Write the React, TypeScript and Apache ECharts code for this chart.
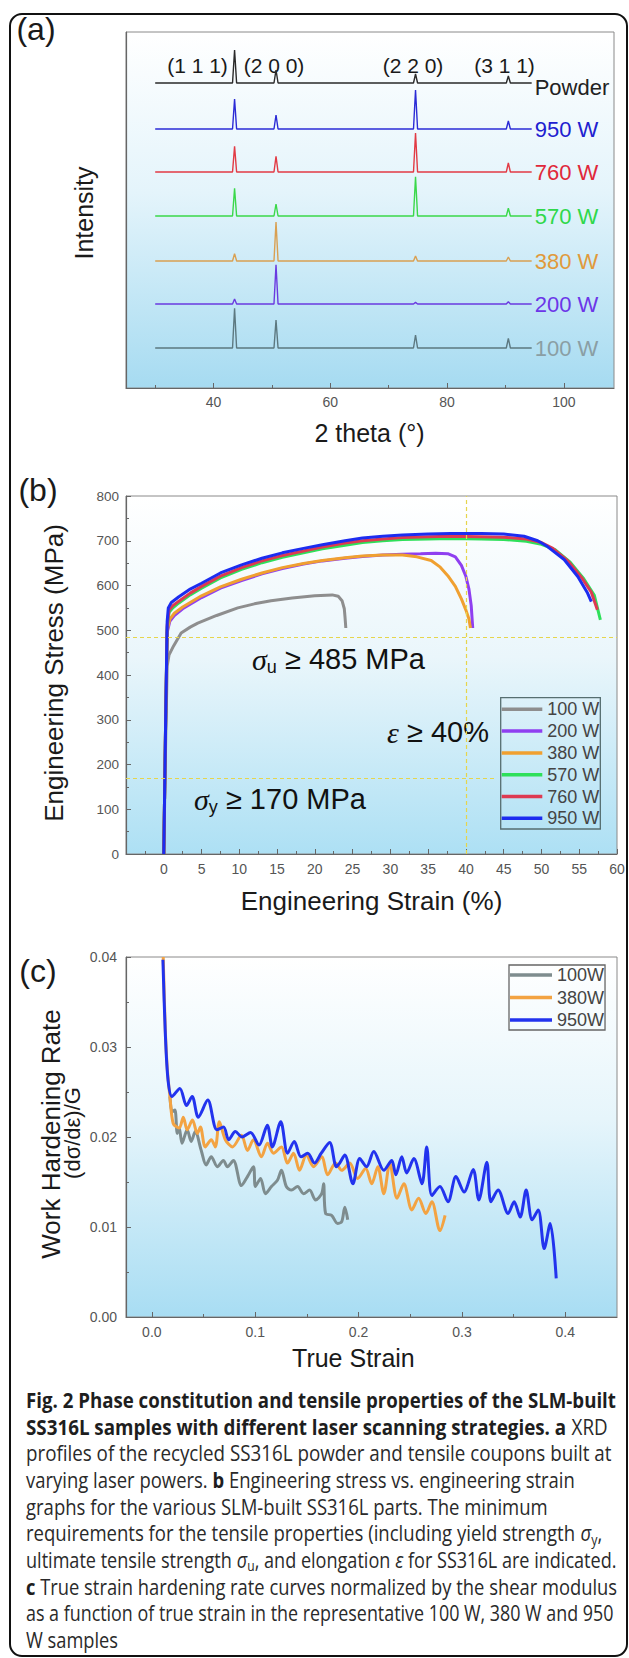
import React, { useEffect, useRef } from 'react';
import * as echarts from 'echarts';

// ---------- Panel (a): XRD ----------
const xrdNames = ['100 W', '200 W', '380 W', '570 W', '760 W', '950 W', 'Powder'];
const xrdOffsets = [40, 84, 127, 172, 216, 259, 305];
const peakPositions = [43.6, 50.7, 74.6, 90.5];
const peakLabels = ['(1 1 1)', '(2 0 0)', '(2 2 0)', '(3 1 1)'];
const xrd100 = [39.7, 28, 13, 9.7];
const xrd200 = [5, 39.3, 1.6, 2.3];
const xrd380 = [7.4, 39, 5, 4];
const xrd570 = [27.7, 12, 39.3, 7.7];
const xrd760 = [25.6, 15.6, 39, 9];
const xrd950 = [30, 14, 39, 8];
const xrdPowder = [33, 13, 9, 7];
const xrdHeights = [xrd100, xrd200, xrd380, xrd570, xrd760, xrd950, xrdPowder];
const scanStart = 30;
const scanEnd = 94.5;
const xrdTickMajor = [40, 60, 80, 100];
const xrdTickMinor = [30, 50, 70, 90];

// ---------- Panel (b): engineering stress-strain ----------
const ssNames = ['100 W', '200 W', '380 W', '570 W', '760 W', '950 W'];
const ss100 = [[0, 0], [0.25, 250], [0.45, 420], [0.7, 445], [1.3, 465], [2.3, 494], [3.5, 507], [4.5, 516], [7, 533], [9.8, 550], [12, 559], [14.2, 566], [17, 572], [20, 577], [22.3, 579], [23.1, 576], [23.6, 566], [23.9, 548], [24.0, 528], [24.1, 505]];
const ss200 = [[0, 0], [0.25, 300], [0.45, 495], [0.8, 520], [1.4, 533], [2.5, 548], [5, 573], [7.5, 594], [10.3, 611], [13, 626], [15.7, 638], [18.5, 648], [21, 655], [24, 661], [26.3, 665], [29, 668], [31.6, 670], [34, 671], [36, 672], [37.6, 671], [38.6, 664], [39.4, 645], [40.0, 620], [40.4, 592], [40.7, 555], [40.9, 505]];
const ss380 = [[0, 0], [0.25, 300], [0.45, 500], [0.8, 525], [1.4, 538], [2.5, 552], [5, 577], [7.5, 597], [10.3, 614], [13, 628], [15.7, 640], [18.5, 649], [21, 656], [24, 662], [26.3, 666], [29, 668], [31.6, 668], [33.5, 664], [35.4, 656], [36.6, 641], [37.6, 622], [38.6, 598], [39.4, 570], [40.0, 545], [40.4, 525], [40.6, 505]];
const ss570 = [[0, 0], [0.25, 300], [0.45, 505], [0.7, 540], [1.2, 550], [2, 561], [3.5, 579], [5, 594], [7.5, 617], [10.3, 636], [13, 651], [15.7, 663], [18.5, 673], [21, 682], [24, 690], [26.3, 696], [29, 700], [31.6, 703], [35, 704], [38, 705], [42, 704], [45, 703], [48, 699], [50, 692], [51.8, 680], [53.8, 652], [55.6, 615], [57, 578], [57.8, 523]];
const ss760 = [[0, 0], [0.25, 300], [0.45, 510], [0.7, 545], [1.2, 555], [2, 565], [3.5, 583], [5, 598], [7.5, 621], [10.3, 640], [13, 655], [15.7, 667], [18.5, 677], [21, 686], [24, 695], [26.3, 700], [29, 704], [31.6, 707], [35, 709], [38, 710], [42, 709], [45, 708], [48, 704], [50, 696], [51.5, 683], [53.5, 655], [55.3, 618], [56.6, 585], [57.4, 546]];
const ss950 = [[0, 0], [0.25, 300], [0.45, 520], [0.6, 550], [1.0, 562], [2, 575], [3.5, 592], [5, 605], [7.5, 628], [10.3, 646], [13, 661], [15.7, 673], [18.5, 683], [21, 691], [24, 700], [26.3, 706], [29, 710], [31.6, 713], [35, 715], [38, 716], [42, 716], [45, 715], [47.7, 710], [49.5, 700], [50.8, 687], [53, 658], [54.8, 620], [56.1, 583], [56.6, 564]];
const ssData = [ss100, ss200, ss380, ss570, ss760, ss950];
const minUltimate = 485;
const minYield = 170;
const minElong = 40;
const yieldLineEnd = 43.9;

// ---------- Panel (c): work hardening ----------
const whNames = ['100W', '380W', '950W'];
const wh100 = [[0.0175, 0.0245], [0.0195, 0.0228], [0.0223, 0.023], [0.0246, 0.0204], [0.0265, 0.021], [0.0292, 0.0193], [0.0342, 0.0208], [0.0381, 0.0195], [0.042, 0.0206], [0.0478, 0.0185], [0.0525, 0.0169], [0.0575, 0.0178], [0.0634, 0.0167], [0.0692, 0.0174], [0.0731, 0.0167], [0.0789, 0.0174], [0.0867, 0.0146], [0.0925, 0.0156], [0.0983, 0.0167], [0.1002, 0.0145], [0.1052, 0.0154], [0.1099, 0.0137], [0.1157, 0.0145], [0.1215, 0.0152], [0.1254, 0.0163], [0.1301, 0.0145], [0.1351, 0.0141], [0.141, 0.0145], [0.1468, 0.0137], [0.1526, 0.0141], [0.1584, 0.013], [0.1643, 0.0137], [0.1662, 0.0148], [0.1681, 0.0115], [0.1739, 0.0113], [0.1797, 0.0104], [0.1837, 0.0106], [0.1867, 0.0122], [0.1895, 0.0108]];
const wh380 = [[0.011, 0.04], [0.013, 0.032], [0.015, 0.0275], [0.0175, 0.0245], [0.0207, 0.0215], [0.0265, 0.021], [0.0304, 0.0222], [0.0342, 0.0208], [0.0393, 0.0219], [0.044, 0.0204], [0.047, 0.0211], [0.0517, 0.0189], [0.0575, 0.0197], [0.0614, 0.0189], [0.0653, 0.0217], [0.0711, 0.0197], [0.0781, 0.0189], [0.0867, 0.0202], [0.0925, 0.0185], [0.0983, 0.0197], [0.106, 0.0178], [0.1119, 0.0193], [0.1177, 0.0182], [0.1254, 0.0189], [0.1312, 0.0171], [0.1371, 0.0182], [0.1429, 0.0163], [0.1495, 0.018], [0.1565, 0.0167], [0.1643, 0.0178], [0.1701, 0.0158], [0.1778, 0.0171], [0.1837, 0.0163], [0.1914, 0.0171], [0.1991, 0.0154], [0.2069, 0.0165], [0.2127, 0.0148], [0.2186, 0.0167], [0.2244, 0.0137], [0.2302, 0.0171], [0.2372, 0.0132], [0.2438, 0.0148], [0.2515, 0.0119], [0.2581, 0.0132], [0.2651, 0.0115], [0.2709, 0.0128], [0.2787, 0.0096], [0.2837, 0.0113]];
const wh950 = [[0.0107, 0.0397], [0.013, 0.0316], [0.0157, 0.0263], [0.0195, 0.0245], [0.0271, 0.0254], [0.0335, 0.0235], [0.039, 0.0245], [0.0449, 0.0222], [0.0541, 0.0241], [0.0629, 0.0208], [0.0694, 0.0211], [0.0743, 0.0197], [0.0808, 0.0206], [0.0873, 0.02], [0.0955, 0.0205], [0.1036, 0.0191], [0.1117, 0.0213], [0.1166, 0.0189], [0.1247, 0.0217], [0.1313, 0.0182], [0.1378, 0.0195], [0.1443, 0.0178], [0.1508, 0.0182], [0.1574, 0.0171], [0.1639, 0.0182], [0.172, 0.0194], [0.1785, 0.0167], [0.1817, 0.0171], [0.1867, 0.018], [0.1945, 0.0148], [0.2011, 0.0176], [0.2077, 0.0167], [0.2147, 0.0184], [0.2244, 0.0163], [0.2321, 0.0174], [0.236, 0.0158], [0.2418, 0.0178], [0.2465, 0.016], [0.2535, 0.0176], [0.2613, 0.0148], [0.2659, 0.0189], [0.2709, 0.0135], [0.2787, 0.0145], [0.2865, 0.0128], [0.2942, 0.0156], [0.302, 0.0139], [0.3109, 0.0164], [0.3163, 0.013], [0.3241, 0.0172], [0.328, 0.0128], [0.335, 0.0141], [0.3447, 0.0115], [0.3505, 0.0128], [0.3563, 0.0111], [0.3621, 0.0141], [0.3679, 0.0108], [0.3738, 0.0119], [0.3796, 0.0076], [0.3854, 0.0104], [0.3912, 0.0043]];
const whData = [wh100, wh380, wh950];
const whTickMajor = [0, 0.1, 0.2, 0.3, 0.4];
const whTickMinor = [0.05, 0.15, 0.25, 0.35];

// ---------- caption ----------
const captionLines = [
  [['b', 'Fig. 2 Phase constitution and tensile properties of the SLM-built']],
  [['b', 'SS316L samples with different laser scanning strategies. a'], ['r', ' XRD']],
  [['r', 'profiles of the recycled SS316L powder and tensile coupons built at']],
  [['r', 'varying laser powers. '], ['b', 'b'], ['r', ' Engineering stress vs. engineering strain']],
  [['r', 'graphs for the various SLM-built SS316L parts. The minimum']],
  [['r', 'requirements for the tensile properties (including yield strength '], ['i', 'σ'], ['s', 'y'], ['r', ',']],
  [['r', 'ultimate tensile strength '], ['i', 'σ'], ['s', 'u'], ['r', ', and elongation '], ['i', 'ε'], ['r', ' for SS316L are indicated.']],
  [['b', 'c'], ['r', ' True strain hardening rate curves normalized by the shear modulus']],
  [['r', 'as a function of true strain in the representative 100 W, 380 W and 950']],
  [['r', 'W samples']],
];
const captionLineEnds = [616.5, 608, 612, 575, 548, 602, 617, 617, 614, 118];

const FONT = '"Liberation Sans", Arial, Helvetica, sans-serif';
const SERIF = '"Liberation Serif", "Times New Roman", serif';
const CAP_FONT = '"Open Sans", "Noto Sans", sans-serif';

const xrdColors = ['#5c7880', '#6a3ae0', '#d9a052', '#3ad84a', '#e23a44', '#2b2bd6', '#2a2a2a'];
const xrdLabelColors = ['#8a9ea4', '#6c36e8', '#e09a3c', '#2fd84a', '#e0283a', '#2020d0', '#222222'];
const ssColors = ['#8e8e8e', '#8f3ff0', '#f0a030', '#2ee05a', '#dd3a52', '#1c2cf0'];
const whColors = ['#7e8c8e', '#f3a342', '#2233ee'];

const PEAK_HALF = 0.35;

function xrdTrace(offset: number, heights: number[]) {
  const pts: number[][] = [[scanStart, offset]];
  peakPositions.forEach((p, i) => {
    pts.push([p - PEAK_HALF, offset], [p, offset + heights[i]], [p + PEAK_HALF, offset]);
  });
  pts.push([scanEnd, offset]);
  return pts;
}

const bgGrad = (bottom: string, mid: string) => ({
  type: 'linear', x: 0, y: 0, x2: 0, y2: 1,
  colorStops: [
    { offset: 0, color: '#ffffff' },
    { offset: 0.45, color: mid },
    { offset: 1, color: bottom },
  ],
});

function txt(x: number, y: number, text: string, size: number, extra: any = {}) {
  return {
    type: 'text', x, y, silent: true, ...extra,
    style: { text, fontSize: size, fontFamily: FONT, fill: '#1a1a1a', align: 'center', verticalAlign: 'middle', ...(extra.style || {}) },
  };
}

function annot(x: number, y: number, sym: string, sub: string, rest: string) {
  return {
    type: 'text', x, y, silent: true,
    style: {
      text: sub ? `{g|${sym}}{s|${sub}}{t|${rest}}` : `{g|${sym}}{t|${rest}}`,
      align: 'center', verticalAlign: 'middle',
      rich: {
        g: { fontFamily: SERIF, fontStyle: 'italic', fontSize: 30, lineHeight: 34, fill: '#111' },
        s: { fontFamily: FONT, fontSize: 18, lineHeight: 18, verticalAlign: 'bottom', fill: '#111' },
        t: { fontFamily: FONT, fontSize: 29, lineHeight: 34, fill: '#111' },
      },
    },
  };
}

export default function App() {
  const ref = useRef<HTMLDivElement>(null);
  useEffect(() => {
    if (!ref.current) return;
    const chart = echarts.init(ref.current, null, { renderer: 'svg' });

    // caption measurement with DOM text (same font resolution as SVG text)
    const span = document.createElement('span');
    span.style.cssText = 'position:absolute;left:-9999px;top:0;visibility:hidden;white-space:pre;';
    document.body.appendChild(span);
    const fonts: Record<string, string> = {
      b: `700 21px ${CAP_FONT}`,
      r: `400 21px ${CAP_FONT}`,
      i: `italic 400 21px ${CAP_FONT}`,
      s: `400 14px ${CAP_FONT}`,
    };
    const mw = (t: string, k: string) => { span.style.font = fonts[k]; span.textContent = t; return span.getBoundingClientRect().width; };
    const lineW = (segs: string[][]) => segs.reduce((a, s) => a + mw(s[1], s[0]), 0);
    const capRich = {
      b: { fontFamily: CAP_FONT, fontWeight: 'bold', fontSize: 21, lineHeight: 26, fill: '#1e1e1e' },
      r: { fontFamily: CAP_FONT, fontSize: 21, lineHeight: 26, fill: '#2a2a2a' },
      i: { fontFamily: CAP_FONT, fontStyle: 'italic', fontSize: 21, lineHeight: 26, fill: '#2a2a2a' },
      s: { fontFamily: CAP_FONT, fontSize: 14, lineHeight: 16, verticalAlign: 'bottom', fill: '#2a2a2a' },
    };
    const caption = captionLines.map((segs, i) => {
      const nat = lineW(segs);
      const k = nat > 0 ? (captionLineEnds[i] - 26) / nat : 0.85;
      return {
        type: 'text', x: 26, y: 1400 + i * 26.67, scaleX: k, silent: true,
        style: {
          text: segs.map((s) => `{${s[0]}|${s[1]}}`).join(''),
          rich: capRich, align: 'left', verticalAlign: 'middle',
        },
      };
    });
    document.body.removeChild(span);

    const axisLabelStyle = { fontFamily: FONT, color: '#555' };
    const tickStyle = { color: '#666', width: 1 };
    const lineAxis = { show: true, onZero: false, lineStyle: { color: '#666', width: 1.2 } };

    const series: any[] = [];
    xrdNames.forEach((n, i) => {
      series.push({
        name: 'XRD ' + n, type: 'line', xAxisIndex: 0, yAxisIndex: 0,
        data: xrdTrace(xrdOffsets[i], xrdHeights[i]),
        showSymbol: false, symbol: 'none', silent: true,
        lineStyle: { color: xrdColors[i], width: 1.4 }, color: xrdColors[i],
        endLabel: {
          show: true, formatter: n, color: xrdLabelColors[i], fontSize: 22, fontFamily: FONT, distance: 3,
          offset: n === 'Powder' ? [0, 4] : [0, 0],
        },
      });
    });
    ssNames.forEach((n, i) => {
      const s: any = {
        name: n, type: 'line', xAxisIndex: 2, yAxisIndex: 1, data: ssData[i],
        showSymbol: false, symbol: 'none', silent: true,
        lineStyle: { color: ssColors[i], width: 3 }, color: ssColors[i],
      };
      if (i === 0) {
        s.markLine = {
          silent: true, symbol: 'none', label: { show: false },
          lineStyle: { type: [4, 3], color: '#e6d54c', width: 1.2 },
          data: [
            { yAxis: minUltimate },
            [{ coord: [-5, minYield] }, { coord: [yieldLineEnd, minYield] }],
            { xAxis: minElong },
          ],
        };
      }
      series.push(s);
    });
    whNames.forEach((n, i) => {
      series.push({
        name: n, type: 'line', xAxisIndex: 3, yAxisIndex: 2, data: whData[i],
        showSymbol: false, symbol: 'none', silent: true, smooth: 0.3,
        lineStyle: { color: whColors[i], width: 3 }, color: whColors[i],
      });
    });

    const graphic: any[] = [
      { type: 'rect', silent: true, shape: { x: 10, y: 14, width: 617, height: 1642, r: 12 }, style: { fill: 'none', stroke: '#111', lineWidth: 2 }, z: 100 },
      txt(36, 29, '(a)', 32),
      txt(38, 490, '(b)', 32),
      txt(38, 971, '(c)', 32),
      ...peakLabels.map((l, i) => txt([197.5, 274, 413, 504.5][i], 65, l, 21)),
      txt(369.5, 433, '2 theta (°)', 25),
      txt(84, 213, 'Intensity', 25, { rotation: Math.PI / 2 }),
      txt(371.5, 901, 'Engineering Strain (%)', 26),
      txt(54, 673, 'Engineering Stress (MPa)', 26, { rotation: Math.PI / 2 }),
      txt(353.4, 1358, 'True Strain', 25),
      txt(51, 1134, 'Work Hardening Rate', 26, { rotation: Math.PI / 2 }),
      txt(72, 1133, '(dσ/dε)/G', 22, { rotation: Math.PI / 2 }),
      annot(338.5, 659, 'σ', 'u', ' ≥ 485 MPa'),
      annot(438, 732, 'ε', '', ' ≥ 40%'),
      annot(280, 799, 'σ', 'y', ' ≥ 170 MPa'),
      ...caption,
    ];

    const option: any = {
      animation: false,
      textStyle: { fontFamily: FONT },
      grid: [
        { left: 126, top: 32, width: 488, height: 356, show: true, borderColor: '#8a8a8a', borderWidth: 1, backgroundColor: bgGrad('#a6dbf1', '#e4f4fb') },
        { left: 126, top: 496, width: 491, height: 358, show: true, borderColor: '#8a8a8a', borderWidth: 1, backgroundColor: bgGrad('#ade0f4', '#eaf6fb') },
        { left: 126, top: 957, width: 491, height: 360, show: true, borderColor: '#8a8a8a', borderWidth: 1, backgroundColor: bgGrad('#a8ddf3', '#e6f5fb') },
      ],
      xAxis: [
        { type: 'value', gridIndex: 0, min: 25, max: 108.6, axisLine: lineAxis, splitLine: { show: false },
          axisTick: { show: true, inside: true, length: 5, customValues: xrdTickMajor, lineStyle: tickStyle },
          axisLabel: { customValues: xrdTickMajor, fontSize: 14, margin: 7, ...axisLabelStyle } },
        { type: 'value', gridIndex: 0, min: 25, max: 108.6, position: 'bottom', axisLine: { show: false }, splitLine: { show: false },
          axisTick: { show: true, inside: true, length: 3, customValues: xrdTickMinor, lineStyle: tickStyle },
          axisLabel: { show: false } },
        { type: 'value', gridIndex: 1, min: -5, max: 60, interval: 5, axisLine: lineAxis, splitLine: { show: false },
          axisTick: { show: true, inside: true, length: 5, lineStyle: tickStyle },
          minorTick: { show: true, splitNumber: 2, length: 3, lineStyle: tickStyle },
          axisLabel: { fontSize: 14, margin: 8, formatter: (v: number) => (v < 0 ? '' : String(v)), ...axisLabelStyle } },
        { type: 'value', gridIndex: 2, min: -0.025, max: 0.45, axisLine: lineAxis, splitLine: { show: false },
          axisTick: { show: true, inside: true, length: 5, customValues: whTickMajor, lineStyle: tickStyle },
          axisLabel: { customValues: whTickMajor, fontSize: 14, margin: 8, formatter: (v: number) => v.toFixed(1), ...axisLabelStyle } },
        { type: 'value', gridIndex: 2, min: -0.025, max: 0.45, position: 'bottom', axisLine: { show: false }, splitLine: { show: false },
          axisTick: { show: true, inside: true, length: 3, customValues: whTickMinor, lineStyle: tickStyle },
          axisLabel: { show: false } },
      ],
      yAxis: [
        { type: 'value', gridIndex: 0, min: 0, max: 356, axisLine: lineAxis, axisTick: { show: false }, axisLabel: { show: false }, splitLine: { show: false } },
        { type: 'value', gridIndex: 1, min: 0, max: 800, interval: 100, axisLine: lineAxis, splitLine: { show: false },
          axisTick: { show: true, inside: true, length: 5, lineStyle: tickStyle },
          minorTick: { show: true, splitNumber: 2, length: 3, lineStyle: tickStyle },
          axisLabel: { fontSize: 13.5, margin: 7, ...axisLabelStyle } },
        { type: 'value', gridIndex: 2, min: 0, max: 0.04, interval: 0.01, axisLine: lineAxis, splitLine: { show: false },
          axisTick: { show: true, inside: true, length: 5, lineStyle: tickStyle },
          minorTick: { show: true, splitNumber: 2, length: 3, lineStyle: tickStyle },
          axisLabel: { fontSize: 14, margin: 9, formatter: (v: number) => v.toFixed(2), ...axisLabelStyle } },
      ],
      legend: [
        { data: ssNames, orient: 'vertical', left: 500.7, top: 697.7, padding: [2.6, 1, 1.7, 1], itemWidth: 40.6, itemHeight: 3.5, itemGap: 3.8,
          icon: 'rect', selectedMode: false, borderColor: '#566e70', borderWidth: 1.3, borderRadius: 0,
          textStyle: { fontSize: 18, color: '#444', fontFamily: FONT, padding: 0 } },
        { data: whNames, orient: 'vertical', left: 509, top: 965, padding: [1, 1, 1, 1], itemWidth: 42, itemHeight: 3.5, itemGap: 4.5,
          icon: 'rect', selectedMode: false, borderColor: '#666', borderWidth: 1.3, borderRadius: 0,
          textStyle: { fontSize: 18, color: '#444', fontFamily: FONT, padding: 0 } },
      ],
      series,
      graphic,
    };
    chart.setOption(option);
    return () => chart.dispose();
  }, []);
  return <div ref={ref} style={{ position: 'absolute', left: 0, top: 0, width: 629, height: 1658, background: '#fff' }} />;
}
